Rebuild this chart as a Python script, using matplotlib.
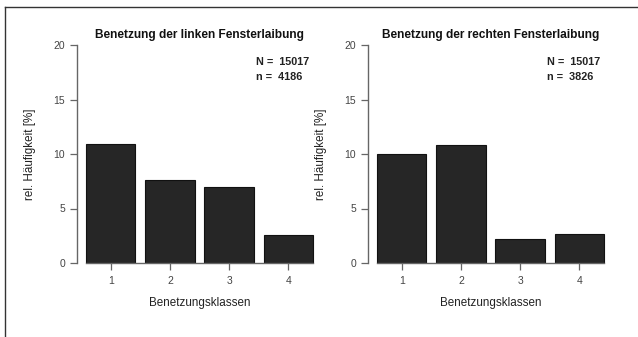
import matplotlib.pyplot as plt
from matplotlib.lines import Line2D

plt.rcParams['font.family'] = ['Liberation Sans', 'DejaVu Sans']

klassen = [1, 2, 3, 4]
links = [10.9, 7.6, 7.0, 2.6]
rechts = [10.0, 10.8, 2.2, 2.7]
N_ges = 15017
n_links = 4186
n_rechts = 3826

# barplot-Positionen wie in R: Breite 1, Abstand 0.2
pos = [0.7, 1.9, 3.1, 4.3]

fig = plt.figure(figsize=(6.38, 3.37), dpi=100)
W, H = 638, 337


def panel(x0, werte, titel, n):
    ax = fig.add_axes([x0 / W, (H - 263) / H, 245 / W, 218 / H])
    ax.bar(pos, werte, width=1.0, color='#262626', edgecolor='#111111', linewidth=0.8)
    ax.set_xlim(0.016, 4.984)
    ax.set_ylim(0, 20)
    for s in ['top', 'right']:
        ax.spines[s].set_visible(False)
    ax.spines['left'].set_bounds(0, 20)
    ax.spines['bottom'].set_bounds(0.2, 4.8)
    for s in ['left', 'bottom']:
        ax.spines[s].set_color('#666666')
        ax.spines[s].set_linewidth(1.0)
    ax.set_yticks([0, 5, 10, 15, 20])
    ax.set_xticks(pos)
    ax.set_xticklabels([str(k) for k in klassen])
    ax.tick_params(colors='#666666', labelcolor='#444444', labelsize=7.5, length=5, width=0.9)
    ax.tick_params(axis='x', pad=4)
    ax.set_title(titel, fontsize=8.6, fontweight='bold', color='#111111', pad=5)
    ax.set_xlabel('Benetzungsklassen', fontsize=8.4, color='#222222', labelpad=8)
    ax.set_ylabel('rel. Häufigkeit [%]', fontsize=8.4, color='#222222', labelpad=13)
    ax.text(3.65, 18.4, 'N =  %d' % N_ges, fontsize=7.8, fontweight='bold', color='#222222', va='center')
    ax.text(3.65, 17.1, 'n =  %d' % n, fontsize=7.8, fontweight='bold', color='#222222', va='center')
    return ax


panel(77, links, 'Benetzung der linken Fensterlaibung', n_links)
panel(368, rechts, 'Benetzung der rechten Fensterlaibung', n_rechts)

# Rahmen oben und links
fig.add_artist(Line2D([5 / W, 1], [1 - 7 / H, 1 - 7 / H], color='#333333', linewidth=1.0))
fig.add_artist(Line2D([5 / W, 5 / W], [0, 1 - 7 / H], color='#333333', linewidth=1.0))

fig.savefig('out.png', dpi=100)
